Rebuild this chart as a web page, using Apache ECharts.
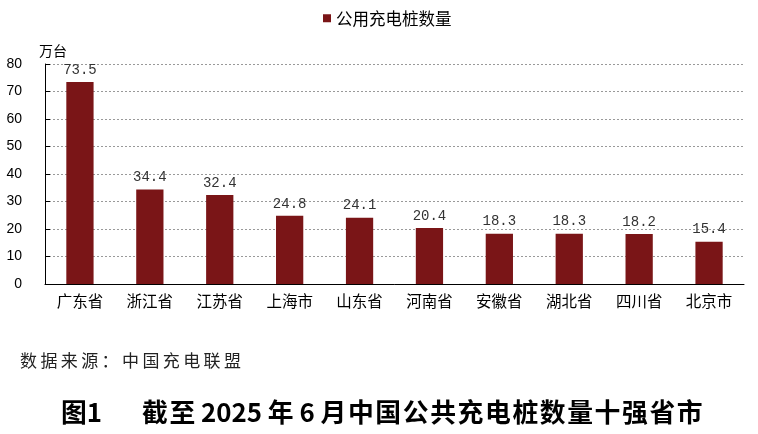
<!DOCTYPE html>
<html>
<head>
<meta charset="utf-8">
<script src="https://cdn.jsdelivr.net/npm/echarts@6/dist/echarts.min.js"></script>
<style>
html,body{margin:0;padding:0;background:#fff;}
#main{width:758px;height:434px;}
</style>
</head>
<body>
<div id="main"></div>
<script>
const categories = ['广东省','浙江省','江苏省','上海市','山东省','河南省','安徽省','湖北省','四川省','北京市'];
const values = [73.5, 34.4, 32.4, 24.8, 24.1, 20.4, 18.3, 18.3, 18.2, 15.4];
const seriesName = '公用充电桩数量';
const unitName = '万台';
const sourceText = '数据来源：中国充电联盟';
const figureLabel = '图1';
const figureTitle = '截至 2025 年 6 月中国公共充电桩数量十强省市';

// widen character spacing (document-style letter spacing)
function spaced(s, sp) {
  return Array.from(s).map(function (c, i, a) {
    const n = a[i + 1];
    if (n === undefined) return c;
    const cjk = /[\u3000-\u9fff\uff00-\uffef]/;
    return (cjk.test(c) || cjk.test(n)) && c !== ' ' && n !== ' ' ? c + sp : c;
  }).join('');
}

const chart = echarts.init(document.getElementById('main'));
chart.setOption({
  backgroundColor: '#fff',
  animation: false,
  legend: {
    left: 318, top: 5,
    itemWidth: 8, itemHeight: 8, itemGap: 4,
    textStyle: { fontFamily: 'Noto Sans CJK SC', fontSize: 16.5, color: '#000' },
    data: [{ name: seriesName, icon: 'rect' }]
  },
  grid: { left: 45, right: 14, top: 64, bottom: 150, containLabel: false },
  xAxis: {
    type: 'category',
    data: categories,
    axisLine: { lineStyle: { color: '#000', width: 1 } },
    axisTick: { inside: true, length: 5, lineStyle: { color: '#000' } },
    axisLabel: { fontFamily: 'Noto Sans CJK SC', fontSize: 15.5, color: '#000', margin: 9 }
  },
  yAxis: {
    type: 'value',
    min: 0, max: 80, interval: 10,
    name: unitName,
    nameGap: 6,
    nameTextStyle: { fontFamily: 'Noto Sans CJK SC', fontSize: 14, color: '#000', align: 'left', padding: [0,0,0,-6] },
    axisLine: { show: true, lineStyle: { color: '#000', width: 1 } },
    axisTick: { show: true, inside: true, length: 5, lineStyle: { color: '#000' } },
    axisLabel: { fontFamily: 'Liberation Sans', fontSize: 14, color: '#000', margin: 23 },
    splitLine: { show: true, lineStyle: { color: '#999', type: [2, 2], width: 1 } }
  },
  series: [{
    name: seriesName,
    type: 'bar',
    data: values,
    barWidth: '39%',
    itemStyle: { color: '#7A1517' },
    label: {
      show: true, position: 'top', distance: 5,
      fontFamily: 'Liberation Mono', fontSize: 14, color: '#333'
    }
  }],
  graphic: [
    { type: 'text', left: 20, top: 352,
      style: { text: spaced(sourceText, '\u2009'), font: '17px "Noto Sans CJK SC"', fill: '#222' } },
    { type: 'text', left: 61, top: 399,
      style: { text: figureLabel, font: 'bold 25.8px "Noto Sans CJK SC"', fill: '#000' } },
    { type: 'text', left: 142, top: 399,
      style: { text: spaced(figureTitle, '\u200A'), font: 'bold 25.8px "Noto Sans CJK SC"', fill: '#000' } }
  ]
});
</script>
</body>
</html>
